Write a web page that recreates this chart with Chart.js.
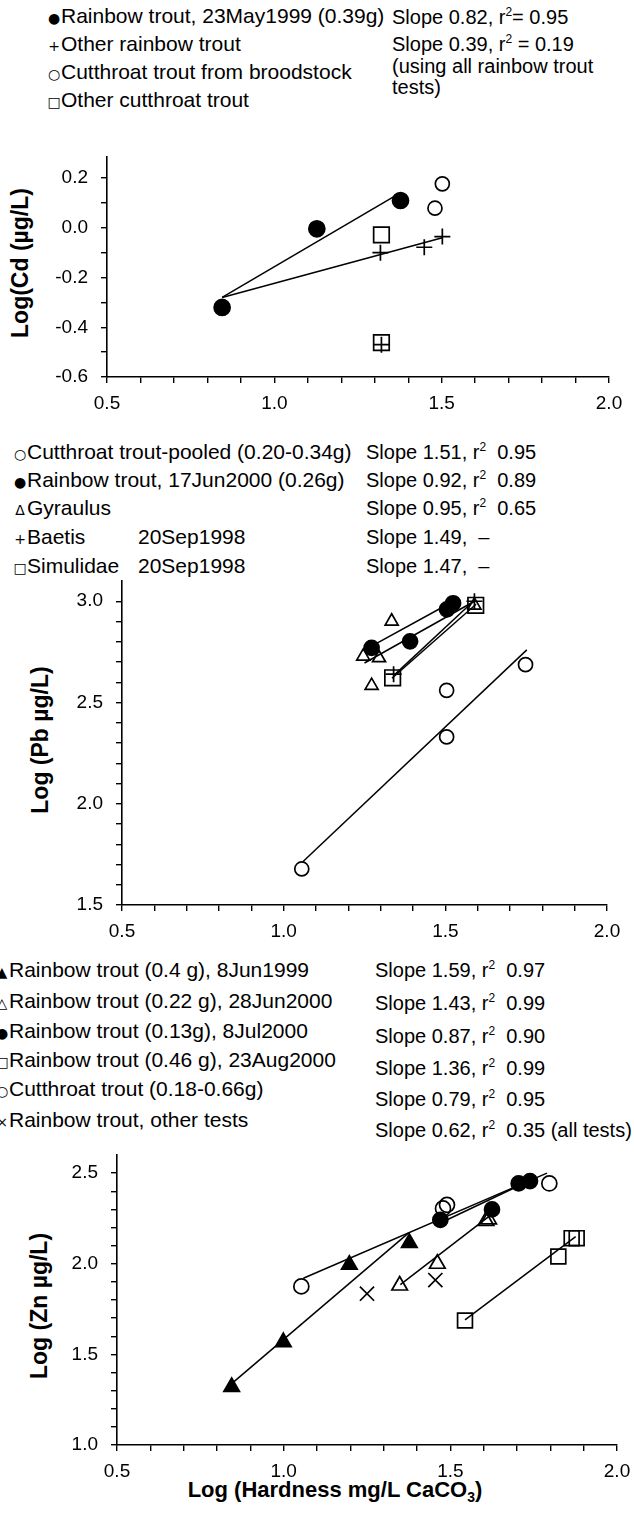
<!DOCTYPE html>
<html>
<head>
<meta charset="utf-8">
<script src="https://cdn.jsdelivr.net/npm/chart.js@4.4.0/dist/chart.umd.min.js"></script>
<style>
  html, body { margin: 0; padding: 0; background: #fff; }
  body { width: 634px; height: 1514px; position: relative; overflow: hidden;
         font-family: "Liberation Sans", Arial, sans-serif; color: #000; }
  .box { position: absolute; left: 0; width: 634px; }
  .t { position: absolute; white-space: nowrap; font-size: 21px; line-height: 24px; height: 24px; margin-top: -12px; }
  .r { font-size: 20px; }
  .sym { display: inline-block; width: 14px; text-align: center; font-family: "DejaVu Sans", sans-serif; font-size: 14px; }
  sup { font-size: 12px; line-height: 0; vertical-align: 8px; }
  sub { font-size: 14px; line-height: 0; vertical-align: -5px; }
  .yt { position: absolute; white-space: nowrap; font-weight: bold; font-size: 23px; transform: translate(-50%, -50%) rotate(-90deg); }
  .xt { position: absolute; white-space: nowrap; font-weight: bold; font-size: 22px; transform: translate(-50%, -50%); }
</style>
</head>
<body>

<!-- panel 1 legend -->
<div class="t" style="top:16px;left:47px"><span class="sym">●</span>Rainbow trout, 23May1999 (0.39g)</div>
<div class="t" style="top:44px;left:47px"><span class="sym">+</span>Other rainbow trout</div>
<div class="t" style="top:72px;left:47px"><span class="sym">○</span>Cutthroat trout from broodstock</div>
<div class="t" style="top:100px;left:47px"><span class="sym">□</span>Other cutthroat trout</div>
<div class="t r" style="top:17px;left:392px">Slope 0.82, r<sup>2</sup>= 0.95</div>
<div class="t r" style="top:44px;left:392px">Slope 0.39, r<sup>2</sup> = 0.19</div>
<div class="t r" style="top:66px;left:392px">(using all rainbow trout</div>
<div class="t r" style="top:87px;left:392px">tests)</div>
<div class="yt" style="left:20px;top:263px">Log(Cd (µg/L)</div>

<!-- panel 2 legend -->
<div class="t" style="top:452px;left:13px"><span class="sym">○</span>Cutthroat trout-pooled (0.20-0.34g)</div>
<div class="t" style="top:480px;left:13px"><span class="sym">●</span>Rainbow trout, 17Jun2000 (0.26g)</div>
<div class="t" style="top:508px;left:13px"><span class="sym">Δ</span>Gyraulus</div>
<div class="t" style="top:537px;left:13px"><span class="sym">+</span>Baetis</div>
<div class="t" style="top:537px;left:138px">20Sep1998</div>
<div class="t" style="top:566px;left:13px"><span class="sym">□</span>Simulidae</div>
<div class="t" style="top:566px;left:138px">20Sep1998</div>
<div class="t r" style="top:452px;left:366px">Slope 1.51, r<sup>2</sup>&nbsp; 0.95</div>
<div class="t r" style="top:480px;left:366px">Slope 0.92, r<sup>2</sup>&nbsp; 0.89</div>
<div class="t r" style="top:508px;left:366px">Slope 0.95, r<sup>2</sup>&nbsp; 0.65</div>
<div class="t r" style="top:537px;left:366px">Slope 1.49,&nbsp; –</div>
<div class="t r" style="top:566px;left:366px">Slope 1.47,&nbsp; –</div>
<div class="yt" style="left:40px;top:740px">Log (Pb µg/L)</div>

<!-- panel 3 legend -->
<div class="t" style="top:970px;left:-5px"><span class="sym">▲</span>Rainbow trout (0.4 g), 8Jun1999</div>
<div class="t" style="top:1001px;left:-5px"><span class="sym">△</span>Rainbow trout (0.22 g), 28Jun2000</div>
<div class="t" style="top:1031px;left:-5px"><span class="sym">●</span>Rainbow trout (0.13g), 8Jul2000</div>
<div class="t" style="top:1060px;left:-5px"><span class="sym">□</span>Rainbow trout (0.46 g), 23Aug2000</div>
<div class="t" style="top:1089px;left:-5px"><span class="sym">○</span>Cutthroat trout (0.18-0.66g)</div>
<div class="t" style="top:1120px;left:-5px"><span class="sym">×</span>Rainbow trout, other tests</div>
<div class="t r" style="top:970px;left:375px">Slope 1.59, r<sup>2</sup>&nbsp; 0.97</div>
<div class="t r" style="top:1003px;left:375px">Slope 1.43, r<sup>2</sup>&nbsp; 0.99</div>
<div class="t r" style="top:1036px;left:375px">Slope 0.87, r<sup>2</sup>&nbsp; 0.90</div>
<div class="t r" style="top:1068px;left:375px">Slope 1.36, r<sup>2</sup>&nbsp; 0.99</div>
<div class="t r" style="top:1099px;left:375px">Slope 0.79, r<sup>2</sup>&nbsp; 0.95</div>
<div class="t r" style="top:1130px;left:375px">Slope 0.62, r<sup>2</sup>&nbsp; 0.35 (all tests)</div>
<div class="yt" style="left:39px;top:1306px">Log (Zn µg/L)</div>
<div class="xt" style="left:335px;top:1490px">Log (Hardness mg/L CaCO<sub>3</sub>)</div>

<div class="box" style="top:135px;height:285px"><canvas id="cd"></canvas></div>
<div class="box" style="top:555px;height:390px"><canvas id="pb"></canvas></div>
<div class="box" style="top:1130px;height:350px"><canvas id="zn"></canvas></div>

<script>
// tick positions and labelled ticks
var xTicks = [0.5, 0.6, 0.7, 0.8, 0.9, 1.0, 1.1, 1.2, 1.3, 1.4, 1.5, 1.6, 1.7, 1.8, 1.9, 2.0];
var xLabels = [0.5, 1.0, 1.5, 2.0];
var cdTicks = [-0.6, -0.5, -0.4, -0.3, -0.2, -0.1, 0.0, 0.1, 0.2];
var cdLabels = [-0.6, -0.4, -0.2, 0.0, 0.2];
var pbTicks = [1.5, 1.6, 1.7, 1.8, 1.9, 2.0, 2.1, 2.2, 2.3, 2.4, 2.5, 2.6, 2.7, 2.8, 2.9, 3.0];
var pbLabels = [1.5, 2.0, 2.5, 3.0];
var znTicks = [1.0, 1.1, 1.2, 1.3, 1.4, 1.5, 1.6, 1.7, 1.8, 1.9, 2.0, 2.1, 2.2, 2.3, 2.4, 2.5];
var znLabels = [1.0, 1.5, 2.0, 2.5];

// Cd panel: [log hardness, log Cd]
var cdRbt23May = [[0.844, -0.32], [1.127, -0.004], [1.377, 0.11]];
var cdRbtOther = [[1.317, -0.10], [1.448, -0.078], [1.502, -0.035], [1.32, -0.47]];
var cdCttBrood = [[1.502, 0.177], [1.480, 0.079]];
var cdCttOther = [[1.32, -0.028], [1.32, -0.462]];
var cdFit23May = [[0.844, -0.28], [1.375, 0.14]];
var cdFitAllRbt = [[0.844, -0.28], [1.502, -0.04]];

// Pb panel
var pbCtt = [[1.056, 1.678], [1.504, 2.56], [1.504, 2.33], [1.748, 2.687]];
var pbRbt17Jun = [[1.272, 2.77], [1.391, 2.802], [1.505, 2.96], [1.524, 2.99]];
var pbGyraulus = [[1.246, 2.728], [1.295, 2.72], [1.272, 2.583], [1.334, 2.901], [1.59, 2.98]];
var pbBaetis = [[1.34, 2.64], [1.59, 3.0]];
var pbSimulidae = [[1.337, 2.622], [1.594, 2.98]];
var pbFitCtt = [[1.06, 1.715], [1.752, 2.76]];
var pbFitRbt = [[1.262, 2.77], [1.525, 3.0]];
var pbFitGyraulus = [[1.25, 2.695], [1.59, 3.0]];
var pbFitBaetis = [[1.345, 2.64], [1.59, 3.005]];
var pbFitSimulidae = [[1.335, 2.62], [1.595, 2.985]];

// Zn panel
var znRbt8Jun = [[0.844, 1.32], [0.999, 1.568], [1.197, 1.995], [1.377, 2.115]];
var znRbt28Jun = [[1.348, 1.88], [1.461, 2.0], [1.607, 2.236], [1.615, 2.245]];
var znRbt8Jul = [[1.47, 2.242], [1.625, 2.30], [1.705, 2.443], [1.739, 2.456]];
var znRbt23Aug = [[1.544, 1.687], [1.824, 2.04], [1.864, 2.141], [1.879, 2.141]];
var znCtt = [[1.053, 1.875], [1.478, 2.305], [1.49, 2.325], [1.797, 2.443]];
var znRbtOther = [[1.25, 1.835], [1.455, 1.91]];
var znFit8Jun = [[0.844, 1.339], [1.375, 2.17]];
var znFit28Jun = [[1.35, 1.885], [1.615, 2.26]];
var znFit8Jul = [[1.47, 2.225], [1.745, 2.465]];
var znFit23Aug = [[1.544, 1.69], [1.876, 2.15]];
var znFitCtt = [[1.059, 1.92], [1.79, 2.50]];

function pts(a) {
    return a.map(function (p) { return { x: p[0], y: p[1] }; });
}
function marks(a, style, r, filled) {
    return {
        data: pts(a), showLine: false, pointStyle: style, pointRadius: r,
        pointBackgroundColor: filled ? "#000" : "rgba(0,0,0,0)",
        pointBorderColor: "#000", pointBorderWidth: 1.7
    };
}
function fit(a) {
    return { data: pts(a), showLine: true, borderColor: "#000", borderWidth: 1.5, pointRadius: 0, order: 1 };
}
function axis(min, max, ticks, labels, pad, size) {
    return {
        type: "linear", min: min, max: max,
        afterBuildTicks: function (s) { s.ticks = ticks.map(function (v) { return { value: v }; }); },
        afterFit: function (s) {
            if (s.isHorizontal()) s.height = size; else s.width = size;
            s.paddingLeft = s.paddingRight = s.paddingTop = s.paddingBottom = 0;
        },
        border: { display: true, color: "#000", width: 1.6 },
        grid: { drawOnChartArea: false, drawTicks: true, tickLength: 6, color: "#000", lineWidth: 1.4 },
        ticks: {
            color: "#000", padding: pad, autoSkip: false, maxRotation: 0,
            font: { family: "'Liberation Sans', Arial, sans-serif", size: 19 },
            callback: function (v) {
                return labels.some(function (l) { return Math.abs(l - v) < 1e-6; }) ? v.toFixed(1) : "";
            }
        }
    };
}
function panel(id, yMin, yMax, yTicks, yLabels, yWidth, xHeight, padding, datasets) {
    return new Chart(document.getElementById(id), {
        type: "scatter",
        data: { datasets: datasets },
        options: {
            responsive: true, maintainAspectRatio: false, animation: false, events: [],
            layout: { padding: padding },
            plugins: { legend: { display: false }, tooltip: { enabled: false } },
            scales: {
                x: axis(0.5, 2.0, xTicks, xLabels, 9, xHeight),
                y: axis(yMin, yMax, yTicks, yLabels, 13, yWidth)
            }
        }
    });
}

var cdChart = panel("cd", -0.6, 0.285, cdTicks, cdLabels, 107, 43, { top: 22, right: 25, left: 0, bottom: 0 }, [
    marks(cdRbtOther, "cross", 8, false),
    marks(cdRbt23May, "circle", 8, true),
    marks(cdCttBrood, "circle", 7, false),
    marks(cdCttOther, "rect", 11, false),
    fit(cdFit23May),
    fit(cdFitAllRbt)
]);

var pbChart = panel("pb", 1.5, 3.1, pbTicks, pbLabels, 122, 40, { top: 26, right: 27, left: 0, bottom: 0 }, [
    marks(pbBaetis, "cross", 8, false),
    marks(pbRbt17Jun, "circle", 7.5, true),
    marks(pbGyraulus, "triangle", 7.5, false),
    marks(pbSimulidae, "rect", 11, false),
    marks(pbCtt, "circle", 7, false),
    fit(pbFitCtt),
    fit(pbFitRbt),
    fit(pbFitGyraulus),
    fit(pbFitBaetis),
    fit(pbFitSimulidae)
]);

var znChart = panel("zn", 1.0, 2.6, znTicks, znLabels, 117, 35, { top: 25, right: 17, left: 0, bottom: 0 }, [
    marks(znRbt8Jun, "triangle", 9, true),
    marks(znRbt28Jun, "triangle", 9, false),
    marks(znRbt8Jul, "circle", 7.5, true),
    marks(znRbt23Aug, "rect", 10.5, false),
    marks(znCtt, "circle", 7.5, false),
    marks(znRbtOther, "crossRot", 10, false),
    fit(znFit8Jun),
    fit(znFit28Jun),
    fit(znFit8Jul),
    fit(znFit23Aug),
    fit(znFitCtt)
]);
</script>
</body>
</html>
